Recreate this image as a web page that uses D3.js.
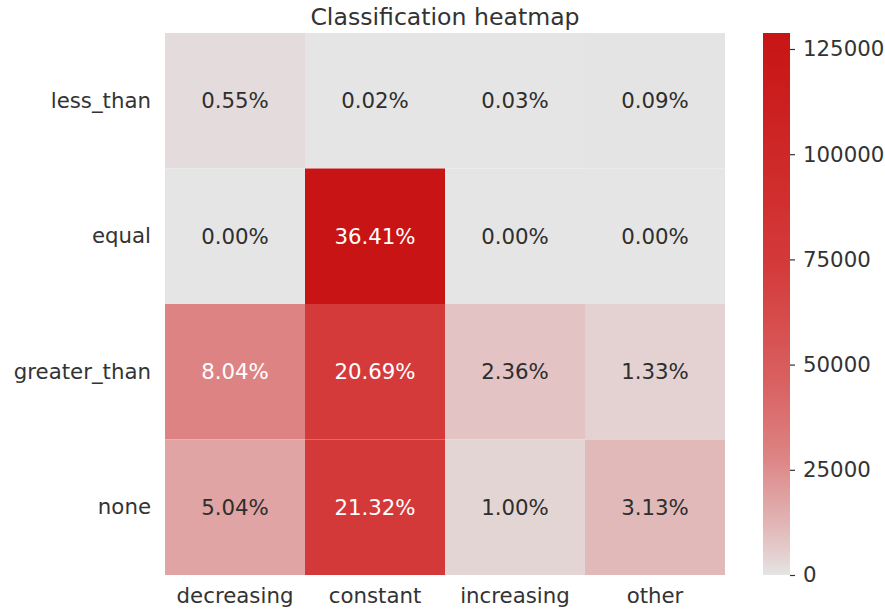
<!DOCTYPE html>
<html>
<head>
<meta charset="utf-8">
<script src="https://cdn.jsdelivr.net/npm/d3@7"></script>
<style>
  html, body { margin: 0; padding: 0; background: #ffffff; }
  svg { display: block; font-family: "DejaVu Sans", sans-serif; }
</style>
</head>
<body>
<svg id="chart" width="885" height="611"></svg>
<script>
// Row and column categories of the classification matrix
const rowLabels = ["less_than", "equal", "greater_than", "none"];
const colLabels = ["decreasing", "constant", "increasing", "other"];

// Share of all samples in each cell (percent), one array per row
const lessThanPct    = [0.55, 0.02, 0.03, 0.09];
const equalPct       = [0.00, 36.41, 0.00, 0.00];
const greaterThanPct = [8.04, 20.69, 2.36, 1.33];
const nonePct        = [5.04, 21.32, 1.00, 3.13];

// Total number of classified samples (cell counts = percent * total)
const totalCount = 353750;

// Colour bar ticks
const colorbarTicks = [0, 25000, 50000, 75000, 100000, 125000];

// Colormap stops: fraction of the maximum count -> colour
const cmapStopPos = [0, 0.03, 0.09, 0.14, 0.22, 0.35, 0.57, 1];
const cmapStopCol = ["#e5e5e5", "#e4d4d4", "#e2b7b7", "#e0a3a3", "#dd8383", "#d96262", "#d43a3a", "#c81414"];

const pctRows = [lessThanPct, equalPct, greaterThanPct, nonePct];
const cells = [];
pctRows.forEach((row, i) => row.forEach((p, j) => {
  cells.push({ row: rowLabels[i], col: colLabels[j], pct: p, count: p / 100 * totalCount });
}));
const vmax = d3.max(cells, d => d.count);

const svg = d3.select("#chart");
const textColor = "#333333";
const fontSize = 21.3;

const plot = { left: 165, right: 725, top: 33, bottom: 575 };
const x = d3.scaleBand().domain(colLabels).range([plot.left, plot.right]);
const y = d3.scaleBand().domain(rowLabels).range([plot.top, plot.bottom]);

const frac = d3.scaleLinear().domain([0, vmax]).range([0, 1]).clamp(true);
const cmap = d3.scaleLinear().domain(cmapStopPos).range(cmapStopCol).interpolate(d3.interpolateRgb);
const colorOf = v => cmap(frac(v));

function luminance(c) {
  const rgb = d3.rgb(c);
  const lin = v => { v /= 255; return v <= 0.03928 ? v / 12.92 : Math.pow((v + 0.055) / 1.055, 2.4); };
  return 0.2126 * lin(rgb.r) + 0.7152 * lin(rgb.g) + 0.0722 * lin(rgb.b);
}

// Heatmap cells
svg.append("g").selectAll("rect").data(cells).join("rect")
  .attr("x", d => x(d.col))
  .attr("y", d => y(d.row))
  .attr("width", x.bandwidth())
  .attr("height", y.bandwidth())
  .attr("fill", d => colorOf(d.count));

// Cell annotations
svg.append("g").selectAll("text").data(cells).join("text")
  .attr("x", d => x(d.col) + x.bandwidth() / 2)
  .attr("y", d => y(d.row) + y.bandwidth() / 2)
  .attr("text-anchor", "middle")
  .attr("dominant-baseline", "central")
  .attr("font-size", fontSize)
  .attr("fill", d => luminance(colorOf(d.count)) < 0.408 ? "#ffffff" : "#2e2e2e")
  .text(d => d.pct.toFixed(2) + "%");

// Axes (tick lines hidden, labels only)
const xAxis = svg.append("g")
  .attr("transform", `translate(0,${plot.bottom})`)
  .call(d3.axisBottom(x).tickSize(0).tickPadding(13));
const yAxis = svg.append("g")
  .attr("transform", `translate(${plot.left},0)`)
  .call(d3.axisLeft(y).tickSize(0).tickPadding(14));
[xAxis, yAxis].forEach(g => {
  g.select(".domain").remove();
  g.selectAll("text").attr("font-size", fontSize).attr("fill", textColor).attr("font-family", "DejaVu Sans, sans-serif");
});

// Title
svg.append("text")
  .attr("x", (plot.left + plot.right) / 2)
  .attr("y", 25)
  .attr("text-anchor", "middle")
  .attr("font-size", 23.6)
  .attr("fill", textColor)
  .text("Classification heatmap");

// Colour bar
const cb = { x: 763, width: 27 };
const cbScale = d3.scaleLinear().domain([0, vmax]).range([plot.bottom, plot.top]);
const grad = svg.append("defs").append("linearGradient")
  .attr("id", "cbGrad").attr("x1", 0).attr("y1", 1).attr("x2", 0).attr("y2", 0);
d3.range(0, 1.0001, 0.01).forEach(t => {
  grad.append("stop").attr("offset", t).attr("stop-color", cmap(t));
});
svg.append("rect")
  .attr("x", cb.x).attr("y", plot.top)
  .attr("width", cb.width).attr("height", plot.bottom - plot.top)
  .attr("fill", "url(#cbGrad)");
const cbAxis = svg.append("g")
  .attr("transform", `translate(${cb.x + cb.width},0)`)
  .call(d3.axisRight(cbScale).tickValues(colorbarTicks).tickFormat(d3.format("d")).tickSize(5).tickPadding(8));
cbAxis.select(".domain").remove();
cbAxis.selectAll("line").attr("stroke", textColor).attr("stroke-width", 1.2);
cbAxis.selectAll("text").attr("font-size", fontSize).attr("fill", textColor).attr("font-family", "DejaVu Sans, sans-serif");
</script>
</body>
</html>
